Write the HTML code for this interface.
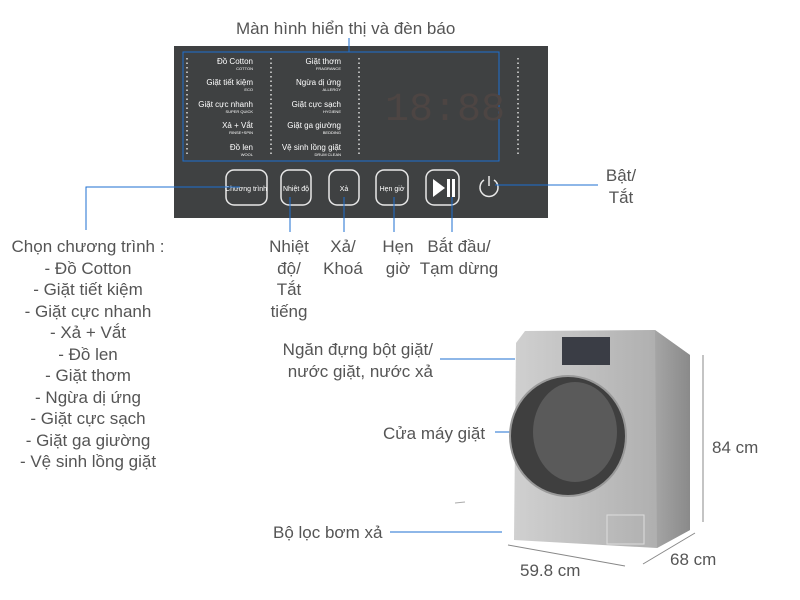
<!DOCTYPE html>
<html><head><meta charset="utf-8"><style>
body{margin:0;width:800px;height:600px;background:#fff;overflow:hidden;position:relative;font-family:"Liberation Sans",sans-serif;color:#555}
.t{position:absolute;font-size:17px;line-height:21.5px;white-space:nowrap}
.c{text-align:center}
</style></head><body>
<svg width="800" height="600" style="position:absolute;left:0;top:0" font-family="Liberation Sans, sans-serif">
<defs>
<linearGradient id="g1" x1="0" x2="1"><stop offset="0" stop-color="#d0d0d0"/><stop offset="0.5" stop-color="#bcbcbc"/><stop offset="1" stop-color="#a8a8a8"/></linearGradient>
<linearGradient id="g2" x1="0" x2="1"><stop offset="0" stop-color="#a5a5a5"/><stop offset="1" stop-color="#8a8a8a"/></linearGradient>
</defs>
<rect x="174" y="46" width="374" height="172" fill="#3f4142"/>
<rect x="183" y="52" width="316" height="109" fill="none" stroke="#1e6fd0" stroke-width="1"/>
<line x1="349" y1="38" x2="349" y2="52" stroke="#1e6fd0"/>
<g fill="#fff" font-size="8" text-anchor="end">
<text x="253" y="64">Đồ Cotton</text><text x="253" y="85">Giặt tiết kiệm</text><text x="253" y="107">Giặt cực nhanh</text><text x="253" y="128">Xả + Vắt</text><text x="253" y="150">Đồ len</text>
<text x="341" y="64">Giặt thơm</text><text x="341" y="85">Ngừa dị ứng</text><text x="341" y="107">Giặt cực sạch</text><text x="341" y="128">Giặt ga giường</text><text x="341" y="150">Vệ sinh lồng giặt</text>
</g>
<g fill="#fff" font-size="4" text-anchor="end">
<text x="253" y="70">COTTON</text><text x="253" y="91">ECO</text><text x="253" y="113">SUPER QUICK</text><text x="253" y="134">RINSE+SPIN</text><text x="253" y="156">WOOL</text>
<text x="341" y="70">FRAGRANCE</text><text x="341" y="91">ALLERGY</text><text x="341" y="113">HYGIENE</text><text x="341" y="134">BEDDING</text><text x="341" y="156">DRUM CLEAN</text>
</g>
<g stroke="#ddd" stroke-width="1.5" stroke-dasharray="1.5,3"><line x1="187" y1="58" x2="187" y2="155"/><line x1="271" y1="58" x2="271" y2="155"/><line x1="359" y1="58" x2="359" y2="155"/><line x1="518" y1="58" x2="518" y2="155"/></g>
<text x="385" y="120" font-size="40" fill="#4d4543" font-family="Liberation Mono">18:88</text>
<g stroke="#e8e8e8" stroke-width="1.5" fill="none">
<rect x="226" y="170" width="41" height="35" rx="8"/><rect x="281" y="170" width="30" height="35" rx="8"/><rect x="329" y="170" width="30" height="35" rx="8"/><rect x="376" y="170" width="32" height="35" rx="8"/><rect x="426" y="170" width="33" height="35" rx="8"/>
<path d="M484 180 A9 9 0 1 0 494 180"/><line x1="489" y1="176" x2="489" y2="186"/>
</g>
<g fill="#fff" font-size="7" text-anchor="middle"><text x="246" y="191">Chương trình</text><text x="296" y="191">Nhiệt độ</text><text x="344" y="191">Xả</text><text x="392" y="191">Hẹn giờ</text></g>
<polygon points="433,179 433,197 445,188" fill="#fff"/><rect x="447" y="179" width="3" height="18" fill="#fff"/><rect x="452" y="179" width="3" height="18" fill="#fff"/>
<g stroke="#1e6fd0" stroke-width="1" fill="none">
<polyline points="240,187 86,187 86,230"/>
<line x1="290" y1="197" x2="290" y2="232"/><line x1="344" y1="197" x2="344" y2="232"/><line x1="394" y1="197" x2="394" y2="232"/><line x1="452" y1="197" x2="452" y2="232"/>
<line x1="495" y1="185" x2="598" y2="185"/>
<line x1="440" y1="359" x2="515" y2="359"/><line x1="495" y1="432" x2="513" y2="432"/><line x1="390" y1="532" x2="502" y2="532"/>
</g>
<polygon points="516,343 525,331 655,330 690,355 690,530 657,548 514,540" fill="url(#g1)"/>
<polygon points="655,330 690,355 690,530 657,548" fill="url(#g2)"/>
<rect x="562" y="337" width="48" height="28" fill="#3a3d45"/>
<ellipse cx="568" cy="436" rx="58" ry="60" fill="#3f3f3f" stroke="#999" stroke-width="2"/>
<ellipse cx="575" cy="432" rx="42" ry="50" fill="#5a5a5a"/>
<rect x="607" y="515" width="37" height="29" fill="none" stroke="#ddd"/>
<g stroke="#888" stroke-width="1" fill="#888">
<line x1="703" y1="355" x2="703" y2="522"/><line x1="508" y1="545" x2="625" y2="566"/><line x1="643" y1="564" x2="695" y2="533"/>
</g>
<line x1="455" y1="503" x2="465" y2="502" stroke="#aaa"/>
</svg>
<div class="t" style="left:236px;top:18px">Màn hình hiển thị và đèn báo</div>
<div class="t c" style="left:596px;top:165px;width:50px">Bật/<br>Tắt</div>
<div class="t c" style="left:6px;top:236px;width:164px">Chọn chương trình :<br>- Đồ Cotton<br>- Giặt tiết kiệm<br>- Giặt cực nhanh<br>- Xả + Vắt<br>- Đồ len<br>- Giặt thơm<br>- Ngừa dị ứng<br>- Giặt cực sạch<br>- Giặt ga giường<br>- Vệ sinh lồng giặt</div>
<div class="t c" style="left:262px;top:236px;width:54px">Nhiệt<br>độ/<br>Tắt<br>tiếng</div>
<div class="t c" style="left:318px;top:236px;width:50px">Xả/<br>Khoá</div>
<div class="t c" style="left:378px;top:236px;width:40px">Hẹn<br>giờ</div>
<div class="t c" style="left:412px;top:236px;width:94px">Bắt đầu/<br>Tạm dừng</div>
<div class="t" style="left:263px;top:339px;text-align:right;width:170px">Ngăn đựng bột giặt/<br>nước giặt, nước xả</div>
<div class="t" style="left:383px;top:423px">Cửa máy giặt</div>
<div class="t" style="left:273px;top:522px">Bộ lọc bơm xả</div>
<div class="t" style="left:712px;top:437px">84 cm</div>
<div class="t" style="left:670px;top:549px">68 cm</div>
<div class="t" style="left:520px;top:560px">59.8 cm</div>
</body></html>
